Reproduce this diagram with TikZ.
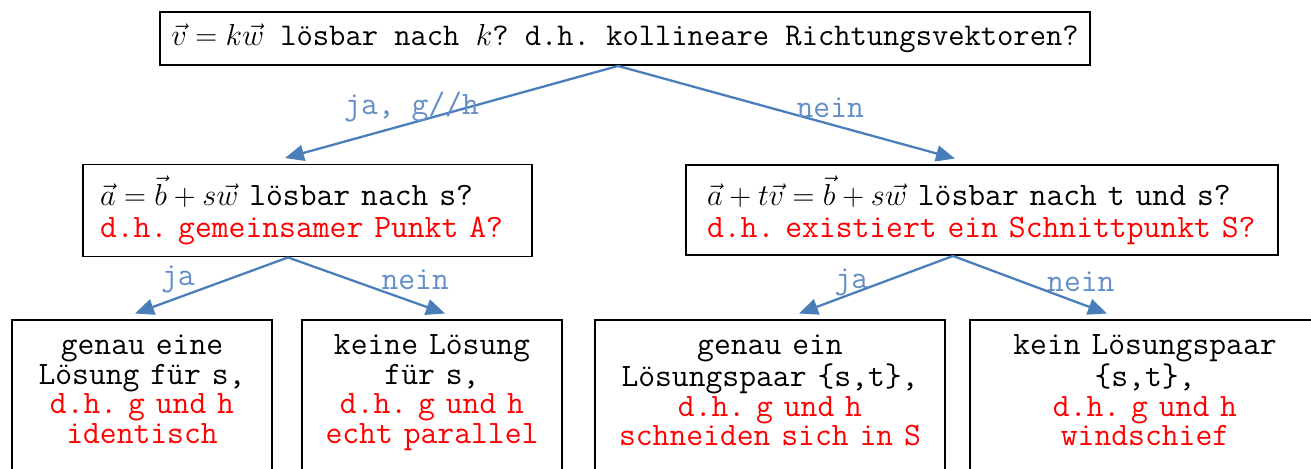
\documentclass[tikz,border=0pt]{standalone}
\usepackage{fontspec}
\usetikzlibrary{arrows.meta}
\definecolor{pfeilBlau}{RGB}{74,126,187}
\definecolor{labelBlau}{RGB}{100,142,200}
% fester Wortabstand wie in Courier
\newcommand\festerAbstand{\fontdimen2\font=\fontcharwd\font`a\fontdimen3\font=0pt\fontdimen4\font=0pt\frenchspacing}
\begin{document}
\begin{tikzpicture}
[x=0.02cm,y=-0.02cm,%
  blueArrow/.style={-{Triangle[length=0.38cm,width=0.32cm]},line width=1.3pt,color=pfeilBlau},%
  questionBox/.style={draw,line width=1.1pt,inner ysep=0pt,font=\ttfamily\fontsize{18.6}{18.2}\selectfont\festerAbstand},%
  answerBox/.style={draw,line width=1.1pt,anchor=north,align=center,inner xsep=0.1cm,inner ysep=0.3cm,
    text depth=2.1cm,font=\ttfamily\fontsize{18.6}{16.8}\selectfont\festerAbstand},%
  edgeLabel/.style={color=labelBlau,inner sep=0pt,font=\ttfamily\fontsize{18.6}{18}\selectfont\festerAbstand}]
\useasboundingbox (0,0) rectangle (1311,468);
%% question boxes
\node (frage) at (625,38.5) [questionBox,inner xsep=0pt,minimum width=18.6cm,minimum height=1.06cm,
  font=\ttfamily\fontsize{18}{18}\selectfont\festerAbstand]
  {$\vec{v}=k\vec{w}$ lösbar nach $k$? d.h. kollineare Richtungsvektoren?};
\node (links) at (307.5,210.5) [questionBox,align=left,text width=8.3cm,inner xsep=0.35cm,minimum height=1.84cm]
  {$\vec{a}=\vec{b}+s\vec{w}$ lösbar nach s?\\ \textcolor{red}{d.h. gemeinsamer Punkt A?}};
\node (rechts) at (982,210) [questionBox,align=left,text width=11cm,inner xsep=0.42cm,minimum height=1.8cm]
  {$\vec{a}+t\vec{v}=\vec{b}+s\vec{w}$ lösbar nach t und s?\\ \textcolor{red}{d.h. existiert ein Schnittpunkt S?}};
%% answer boxes
\node (identisch) at (142,319) [answerBox,text width=5cm]
  {genau eine\\ Lösung für s,\\ \textcolor{red}{d.h. g und h}\\ \textcolor{red}{identisch}};
\node (parallel) at (432,319) [answerBox,text width=5cm]
  {keine Lösung\\ für s,\\ \textcolor{red}{d.h. g und h}\\ \textcolor{red}{echt parallel}};
\node (schnitt) at (770,319) [answerBox,text width=6.8cm]
  {genau ein\\ Lösungspaar \{s,t\},\\ \textcolor{red}{d.h. g und h}\\ \textcolor{red}{schneiden sich in S}};
\node (windschief) at (1145,319) [answerBox,text width=6.8cm]
  {kein Lösungspaar\\ \{s,t\},\\ \textcolor{red}{d.h. g und h}\\ \textcolor{red}{windschief}};
%% arrows with labels
\path
\foreach \startnode/\endnode/\sx/\ex/\txt/\lpos/\lshift in {
  frage/links/-0.14cm/-0.45cm/{ja, g//h}/0.62/0.32cm,
  frage/rechts/-0.14cm/-0.54cm/nein/0.63/0.34cm,
  links/identisch/-0.39cm/-0.14cm/ja/0.72/0.36cm,
  links/parallel/-0.39cm/0.26cm/nein/0.81/0.47cm,
  rechts/schnitt/-0.58cm/0.58cm/ja/0.66/0.24cm,
  rechts/windschief/-0.58cm/-0.76cm/nein/0.83/0.43cm}
{
  ([xshift=\sx]\startnode.south) edge[blueArrow] node[edgeLabel,pos=\lpos,yshift=\lshift] {\txt}
    ([xshift=\ex,yshift=0.11cm]\endnode.north)
};
\end{tikzpicture}
\end{document}
